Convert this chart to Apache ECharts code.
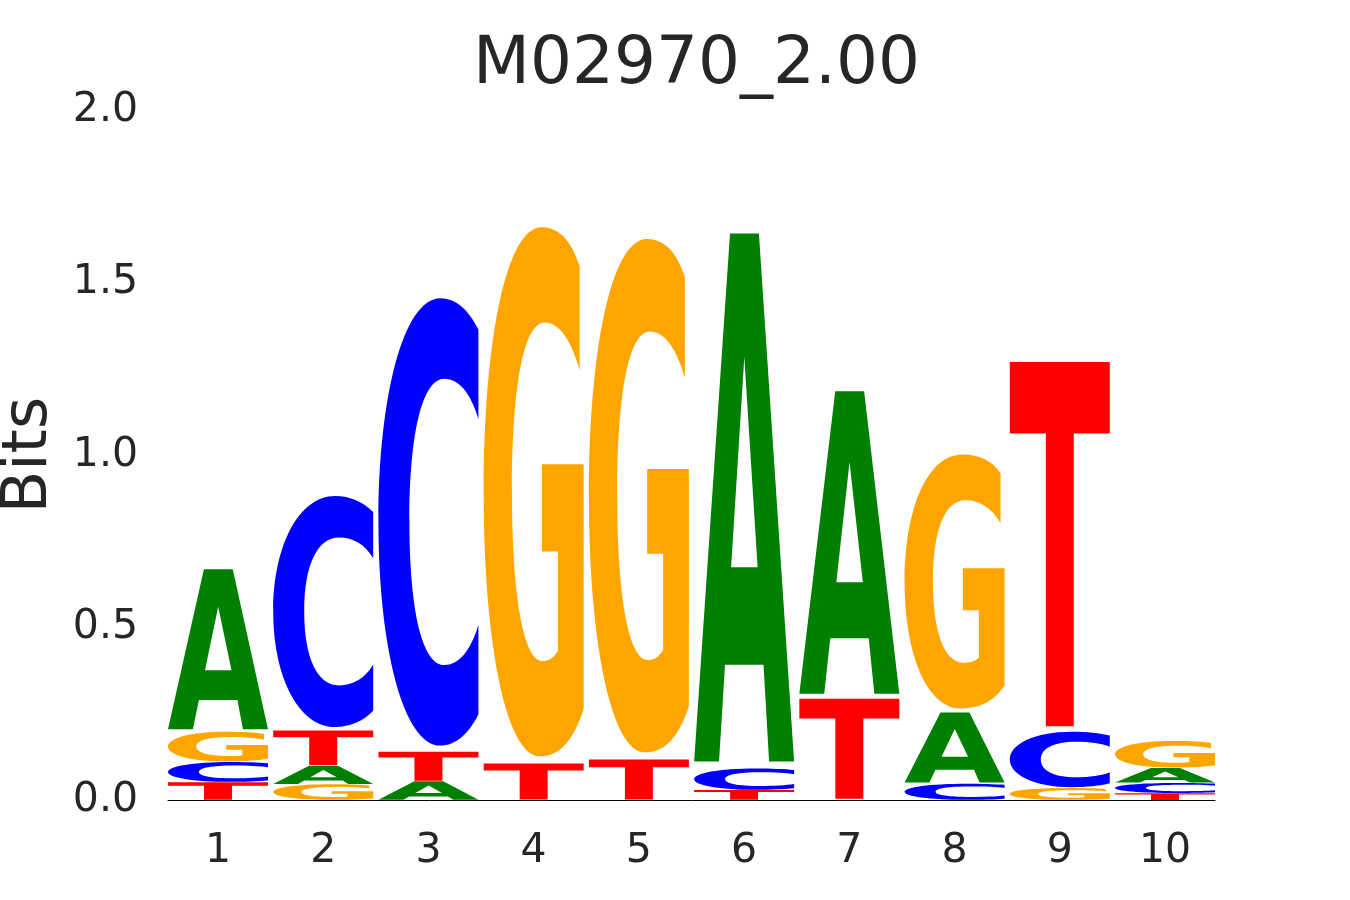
<!DOCTYPE html>
<html>
<head>
<meta charset="utf-8">
<title>M02970_2.00</title>
<script src="https://cdn.jsdelivr.net/npm/echarts@6/dist/echarts.min.js"></script>
<style>
  html, body { margin: 0; padding: 0; background: #fff; }
  #chart { width: 1350px; height: 900px; }
</style>
</head>
<body>
<div id="chart"></div>
<script>
// motif columns and information content (bits) per base
const positions = [1, 2, 3, 4, 5, 6, 7, 8, 9, 10];
const bitsA = [0.476, 0.054, 0.055, 0, 0, 1.570, 0.899, 0.208, 0, 0.043];
const bitsC = [0.059, 0.687, 1.330, 0, 0, 0.063, 0, 0.048, 0.165, 0.030];
const bitsG = [0.088, 0.046, 0, 1.573, 1.526, 0, 0, 0.755, 0.035, 0.079];
const bitsT = [0.052, 0.103, 0.086, 0.107, 0.119, 0.029, 0.297, 0, 1.083, 0.020];
const yTicks = [0, 0.5, 1.0, 1.5, 2.0];

const letters = ['A', 'C', 'G', 'T'];
const colors = { A: '#008000', C: '#0000FF', G: '#FFA500', T: '#FF0000' };

// glyph outlines in a 100x100 box, stretched to the letter's box
const glyphs = {
    A: 'M0,100 L35.9,0 L64.8,0 L100,100 L75,100 L69.4,81.7 L30.9,81.7 L24.9,100 Z ' +
       'M37,63.2 L63.5,63.2 L50.2,23.4 Z',
    C: 'M100,7 C90,2.5 77,0 62,0 C25,0 0,22 0,50 C0,78 25,100 62,100 C77,100 90,97.5 100,93 ' +
       'L100,73 C92,79 80,82 66,82 C44,82 31,70 31,50 C31,30 44,18 66,18 C80,18 92,21 100,27 Z',
    G: 'M96,7.4 C88,2.5 75,0 58,0 C22,0 0,22 0,50 C0,80 24,100 56,100 C76,100 90,97 100,91 ' +
       'L100,44.8 L58.3,44.8 L58.3,61.3 L74.3,61.3 L74.3,80 C70,81.5 65,82 59,82 ' +
       'C40,82 28.3,70 28.3,50 C28.3,30 40,18 61,18 C75,18 87,21 96,27 Z',
    T: 'M0,0 L100,0 L100,19.6 L64,19.6 L64,100 L36,100 L36,19.6 L0,19.6 Z'
};

// stack letters per column, smallest at the bottom
const stackData = [];
positions.forEach((pos, i) => {
    const col = [
        { l: 0, v: bitsA[i] },
        { l: 1, v: bitsC[i] },
        { l: 2, v: bitsG[i] },
        { l: 3, v: bitsT[i] }
    ].filter(d => d.v > 0).sort((a, b) => a.v - b.v);
    let base = 0;
    col.forEach(d => {
        stackData.push([pos, base, base + d.v, d.l]);
        base += d.v;
    });
});

const glyphWidth = 0.95;
const vpad = 0.025;

const chart = echarts.init(document.getElementById('chart'));
const textColor = '#262626';
const font = 'DejaVu Sans';

chart.setOption({
    animation: false,
    title: {
        text: 'M02970_2.00',
        left: 691.5,
        top: 28,
        textAlign: 'center',
        textStyle: { fontFamily: font, fontSize: 66, fontWeight: 'normal', color: textColor }
    },
    grid: { left: 168, right: 135, top: 110, bottom: 100, containLabel: false, outerBoundsMode: 'none' },
    xAxis: {
        type: 'value',
        min: 0.525,
        max: 10.475,
        splitLine: { show: false },
        axisTick: { show: false },
        axisLine: { show: true, lineStyle: { color: '#000', width: 1 } },
        axisLabel: {
            customValues: positions,
            fontFamily: font, fontSize: 41, color: textColor, margin: 31
        }
    },
    yAxis: {
        type: 'value',
        min: 0,
        max: 2,
        interval: 0.5,
        name: 'Bits',
        nameLocation: 'middle',
        nameRotate: 90,
        nameGap: 107,
        nameTextStyle: { fontFamily: font, fontSize: 62, color: textColor },
        splitLine: { show: false },
        axisTick: { show: false },
        axisLine: { show: false },
        axisLabel: {
            customValues: yTicks,
            formatter: v => v.toFixed(1),
            fontFamily: font, fontSize: 41, color: textColor, margin: 30
        }
    },
    series: [{
        type: 'custom',
        data: stackData,
        encode: { x: 0, y: [1, 2] },
        renderItem: (params, api) => {
            const x = api.value(0);
            const y0 = api.value(1);
            const y1 = api.value(2);
            const letter = letters[api.value(3)];
            const pad = (y1 - y0) * vpad / 2;
            const p0 = api.coord([x - glyphWidth / 2, y1 - pad]);
            const p1 = api.coord([x + glyphWidth / 2, y0 + pad]);
            return {
                type: 'path',
                shape: {
                    pathData: glyphs[letter],
                    x: p0[0], y: p0[1],
                    width: p1[0] - p0[0], height: p1[1] - p0[1],
                    layout: 'cover'
                },
                style: { fill: colors[letter] }
            };
        }
    }]
});
</script>
</body>
</html>
